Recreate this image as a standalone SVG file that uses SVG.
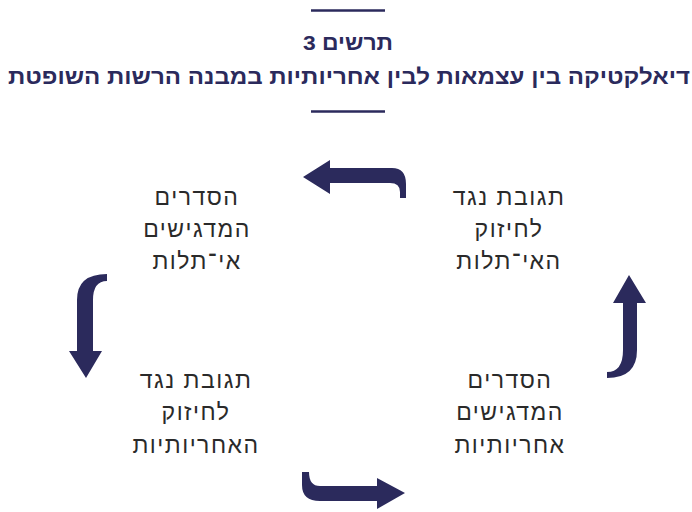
<svg xmlns="http://www.w3.org/2000/svg" width="692" height="512" viewBox="0 0 692 512">
<style>
.ttl{font-family:"Liberation Sans",sans-serif;font-weight:bold;fill:#2b2a5c;text-anchor:middle}
.lbl{font-family:"Liberation Sans",sans-serif;font-size:23px;letter-spacing:1.5px;fill:#2a2a2a;text-anchor:middle}
.rule{stroke:#2b2a5c;stroke-width:2.5}
.arr{fill:#2b2a5c}
</style>
<rect width="692" height="512" fill="#fff"/>
<g id="title">
<line class="rule" x1="311" y1="10.5" x2="385" y2="10.5"/>
<text class="ttl" x="348" y="50" font-size="21" direction="rtl" textLength="90" lengthAdjust="spacingAndGlyphs">תרשים 3</text>
<text class="ttl" x="349" y="84" font-size="22" direction="rtl" textLength="682" lengthAdjust="spacingAndGlyphs">דיאלקטיקה בין עצמאות לבין אחריותיות במבנה הרשות השופטת</text>
<line class="rule" x1="311" y1="111.5" x2="385" y2="111.5"/>
</g>
<g id="node-top-left">
<text class="lbl" direction="rtl"><tspan x="197" y="205">הסדרים</tspan><tspan x="197" y="237">המדגישים</tspan><tspan x="197" y="269">אי־תלות</tspan></text>
</g>
<g id="node-top-right">
<text class="lbl" direction="rtl"><tspan x="509" y="205">תגובת נגד</tspan><tspan x="509" y="237">לחיזוק</tspan><tspan x="509" y="269">האי־תלות</tspan></text>
</g>
<g id="node-bottom-left">
<text class="lbl" direction="rtl"><tspan x="196" y="388">תגובת נגד</tspan><tspan x="196" y="420">לחיזוק</tspan><tspan x="196" y="453">האחריותיות</tspan></text>
</g>
<g id="node-bottom-right">
<text class="lbl" direction="rtl"><tspan x="510" y="388">הסדרים</tspan><tspan x="510" y="420">המדגישים</tspan><tspan x="510" y="453">אחריותיות</tspan></text>
</g>
<g id="connectors">
<path class="arr" d="M303,177 L330,160 L330,168 L392,168 Q406,168 406,184 L406,198 L400,198 L400,192 Q400,183 390,183 L330,183 L330,194 Z"/>
<path class="arr" d="M86,378 L69,351 L77,351 L77,300 Q77,274 107,274 L107,281 Q93,281 93,300 L93,351 L102,351 Z"/>
<path class="arr" d="M629,275 L646,303 L637,303 L637,350 Q637,378 607,378 L607,372 Q623,372 623,350 L623,303 L613,303 Z"/>
<path class="arr" d="M405,493 L377,478 L377,486 L320,486 Q309,486 309,472 L302,472 L302,485 Q302,501 320,501 L377,501 L377,509 Z"/>
</g>
</svg>
